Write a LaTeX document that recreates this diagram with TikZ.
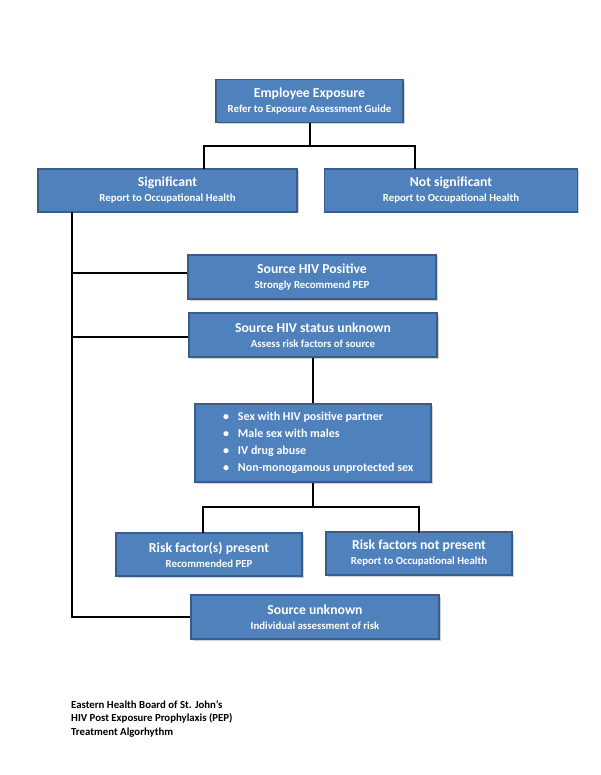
\documentclass[tikz,border=0pt]{standalone}
\usepackage{fontspec}
\setmainfont{Carlito}
\usetikzlibrary{shadows}
\definecolor{boxblue}{HTML}{4F81BD}
\definecolor{boxedge}{HTML}{385D8A}
\tikzset{
  box/.style={draw=boxedge, line width=1.2pt, fill=boxblue, text=white, font=\bfseries,
    align=center, inner sep=0pt, minimum height=43pt,
    drop shadow={opacity=0.35, shadow xshift=1.5pt, shadow yshift=-1.5pt}},
  conn/.style={draw=black, line width=2pt},
}
\newcommand{\bt}[2]{{\fontsize{13.7}{15}\selectfont #1}\\[3pt]{\fontsize{10.8}{12}\selectfont #2}}
\newcommand{\bul}{\makebox[15pt][l]{\textbullet}}
\begin{document}
\begin{tikzpicture}[x=1pt,y=-1pt]
\useasboundingbox (0,0) rectangle (600,775);
\fill[white] (0,0) rectangle (600,775);
\coordinate (j1) at (309.5,146);
\coordinate (s1) at (204,169);
\coordinate (s2) at (415,169);
\coordinate (v1) at (72,212);
\coordinate (b1) at (72,273);
\coordinate (b2) at (72,337);
\coordinate (b3) at (72,617);
\coordinate (j2) at (313,507);
\coordinate (r1) at (203,533);
\coordinate (r2) at (419,533);

\node[box, minimum width=187pt] (ee) at (309.5,101) {\bt{Employee Exposure}{Refer to Exposure Assessment Guide}};
\node[box, minimum width=259pt] (sig) at (167.5,190.5) {\bt{Significant}{Report to Occupational Health}};
\node[box, minimum width=253pt] (nsig) at (451,190.5) {\bt{Not significant}{Report to Occupational Health}};
\node[box, minimum width=248pt, minimum height=44pt] (pos) at (312,277) {\bt{Source HIV Positive}{Strongly Recommend PEP}};
\node[box, minimum width=248pt, minimum height=44pt] (unk) at (313,335) {\bt{Source HIV status unknown}{Assess risk factors of source}};
\node[box, minimum width=236pt, minimum height=78pt] (list) at (313,443) {%
  \makebox[236pt][l]{\hspace{28pt}\fontsize{12}{17}\selectfont\begin{tabular}{@{}l@{}}%
  \bul Sex with HIV positive partner\\%
  \bul Male sex with males\\%
  \bul IV drug abuse\\%
  \bul Non-monogamous unprotected sex%
  \end{tabular}}};
\node[box, minimum width=186pt] (rp) at (209,554.5) {\bt{Risk factor(s) present}{Recommended PEP}};
\node[box, minimum width=186pt] (rnp) at (419,553.5) {\bt{Risk factors not present}{Report to Occupational Health}};
\node[box, minimum width=248pt, minimum height=44pt] (su) at (315,617) {\bt{Source unknown}{Individual assessment of risk}};

\draw[conn] (ee.south) -- (j1);
\draw[conn] (s1) |- (j1) -| (s2);
\draw[conn] (v1) -- (b3) -- (b3 -| su.west);
\draw[conn] (b1) -- (b1 -| pos.west);
\draw[conn] (b2) -- (b2 -| unk.west);
\draw[conn] (unk.south) -- (list.north);
\draw[conn] (list.south) -- (j2);
\draw[conn] (r1) |- (j2) -| (r2);

\node[anchor=north west, align=left, font=\bfseries\fontsize{10.8}{13.5}\selectfont, inner sep=0pt] (foot) at (71,700)
  {Eastern Health Board of St. John’s\\HIV Post Exposure Prophylaxis (PEP)\\Treatment Algorhythm};
\end{tikzpicture}
\end{document}
